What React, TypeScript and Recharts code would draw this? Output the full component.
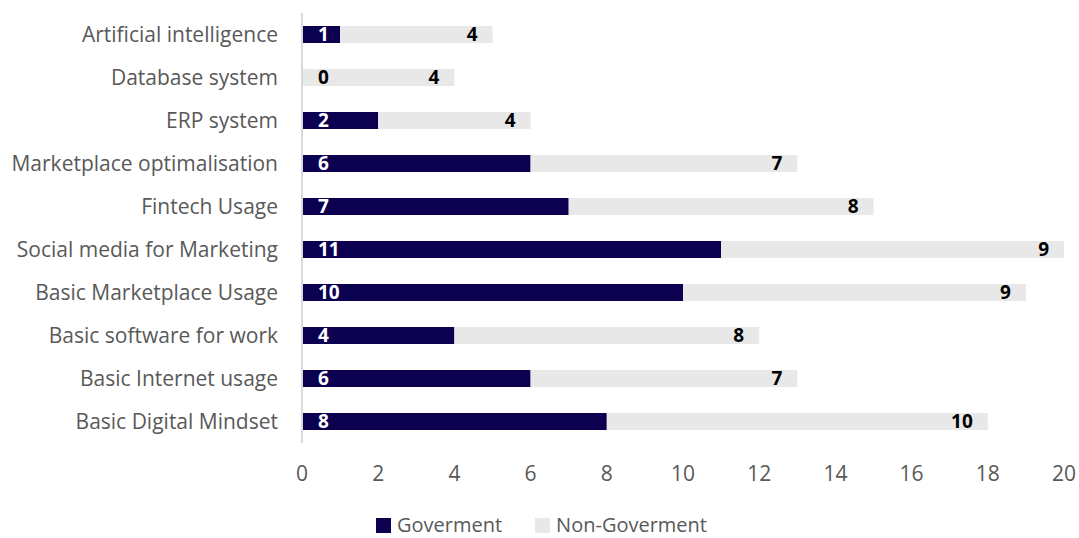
import { BarChart, Bar, XAxis, YAxis, Legend, LabelList } from 'recharts';

const categories = [
  'Artificial intelligence',
  'Database system',
  'ERP system',
  'Marketplace optimalisation',
  'Fintech Usage',
  'Social media for Marketing',
  'Basic Marketplace Usage',
  'Basic software for work',
  'Basic Internet usage',
  'Basic Digital Mindset',
];
const government = [1, 0, 2, 6, 7, 11, 10, 4, 6, 8];
const nonGovernment = [4, 4, 4, 7, 8, 9, 9, 8, 7, 10];
const xTicks = [0, 2, 4, 6, 8, 10, 12, 14, 16, 18, 20];

const data = categories.map((name, i) => ({
  name,
  gov: government[i],
  nonGov: nonGovernment[i],
}));

const FONT = '"Open Sans", Lato, sans-serif';
const NAVY = '#0c0050';
const GREY = '#e8e8e8';

const numText = (x: number, y: number, value: any, fill: string, anchor: 'start' | 'end') => (
  <text
    x={x}
    y={y}
    dy="0.36em"
    textAnchor={anchor}
    fill={fill}
    fontFamily={FONT}
    fontWeight={700}
    fontSize={19}
  >
    {value}
  </text>
);

const govLabel = (props: any) => {
  const { x, y, height, value } = props;
  if (!value) return null;
  return numText(Number(x) + 16, Number(y) + Number(height) / 2, value, '#fff', 'start');
};

// a zero-width government bar gets no label of its own, so the non-government bar draws its "0"
const nonGovLabel = (props: any) => {
  const { x, y, width, height, value, index } = props;
  const cy = Number(y) + Number(height) / 2;
  return (
    <g>
      {government[index] === 0 && numText(Number(x) + 16, cy, 0, '#000', 'start')}
      {numText(Number(x) + Number(width) - 15, cy, value, '#000', 'end')}
    </g>
  );
};

const legendContent = () => (
  <div style={{ display: 'flex', justifyContent: 'center', alignItems: 'center', height: 26, lineHeight: '26px', fontFamily: FONT, fontSize: 20, color: '#595959', paddingLeft: 19 }}>
    <span style={{ display: 'inline-block', width: 15, height: 15, background: NAVY, marginRight: 6 }} />
    <span style={{ marginRight: 33 }}>Goverment</span>
    <span style={{ display: 'inline-block', width: 15, height: 15, background: GREY, marginRight: 6 }} />
    <span>Non-Goverment</span>
  </div>
);

export default function App() {
  return (
    <div style={{ position: 'absolute', left: 0, top: 0, background: '#fff' }}>
      <BarChart
        width={1079}
        height={538}
        data={data}
        layout="vertical"
        barCategoryGap={0}
        margin={{ top: 13, right: 15, bottom: 0, left: 0 }}
      >
        <XAxis
          type="number"
          domain={[0, 20]}
          ticks={xTicks}
          axisLine={false}
          tickLine={false}
          tickSize={0}
          tickMargin={23}
          height={69}
          tick={{ fill: '#595959', fontSize: 21, fontFamily: FONT }}
        />
        <YAxis
          type="category"
          dataKey="name"
          width={302}
          axisLine={{ stroke: '#d9d9d9', strokeWidth: 2 }}
          tickLine={false}
          tickSize={0}
          tickMargin={24}
          interval={0}
          tick={{ fill: '#595959', fontSize: 21, fontFamily: FONT }}
        />
        <Legend verticalAlign="bottom" height={26} content={legendContent} />
        <Bar dataKey="gov" name="Goverment" stackId="a" fill={NAVY} barSize={17} isAnimationActive={false}>
          <LabelList dataKey="gov" content={govLabel} />
        </Bar>
        <Bar dataKey="nonGov" name="Non-Goverment" stackId="a" fill={GREY} barSize={17} isAnimationActive={false}>
          <LabelList dataKey="nonGov" content={nonGovLabel} />
        </Bar>
      </BarChart>
    </div>
  );
}
